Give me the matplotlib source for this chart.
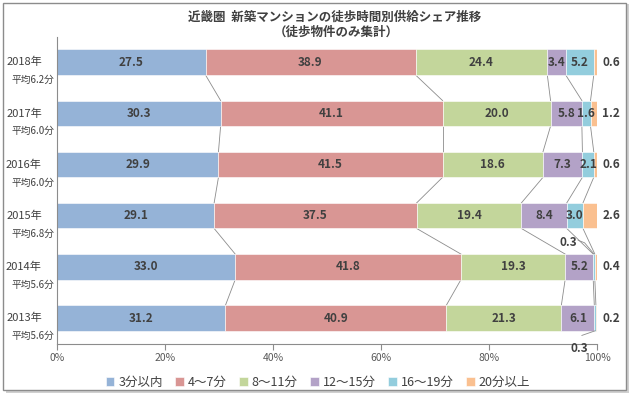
import numpy as np
import matplotlib
matplotlib.use('Agg')
import matplotlib.pyplot as plt
from matplotlib.patches import Rectangle

plt.rcParams['font.family'] = ['Noto Sans CJK JP', 'DejaVu Sans']

# データ (上から 2018 -> 2013)
years = ['2018年', '2017年', '2016年', '2015年', '2014年', '2013年']
averages = ['平均6.2分', '平均6.0分', '平均6.0分', '平均6.8分', '平均5.6分', '平均5.6分']
categories = ['3分以内', '4～7分', '8～11分', '12～15分', '16～19分', '20分以上']

walk_0_3 = [27.5, 30.3, 29.9, 29.1, 33.0, 31.2]
walk_4_7 = [38.9, 41.1, 41.5, 37.5, 41.8, 40.9]
walk_8_11 = [24.4, 20.0, 18.6, 19.4, 19.3, 21.3]
walk_12_15 = [3.4, 5.8, 7.3, 8.4, 5.2, 6.1]
walk_16_19 = [5.2, 1.6, 2.1, 3.0, 0.3, 0.3]
walk_20_up = [0.6, 1.2, 0.6, 2.6, 0.4, 0.2]

colors = ['#95B3D7', '#D99694', '#C3D69B', '#B3A2C7', '#93CDDD', '#FAC090']
txt = '#404040'

data = np.array([walk_0_3, walk_4_7, walk_8_11, walk_12_15, walk_16_19, walk_20_up])
ypos = np.arange(len(years))[::-1]
h = 0.5

fig = plt.figure(figsize=(6.33, 3.98), dpi=100)
# 外枠
fig.patches.append(Rectangle((0.009, 0.012), 0.985, 0.978, transform=fig.transFigure,
                             facecolor='#d0d0d0', edgecolor='none', zorder=-2))
fig.patches.append(Rectangle((0.004, 0.02), 0.985, 0.972, transform=fig.transFigure,
                             facecolor='white', edgecolor='#8c8c8c', lw=1.0, zorder=-1))

ax = fig.add_axes([57 / 633, 1 - 343.6 / 398, 540 / 633, 307 / 398])

left = np.zeros(len(years))
for i, cat in enumerate(categories):
    ax.barh(ypos, data[i], left=left, height=h, color=colors[i], edgecolor='white',
            linewidth=0.4, label=cat, zorder=2)
    for j in range(len(years)):
        v = data[i][j]
        if i == 5:
            ax.text(102.6, ypos[j], f'{v:.1f}', ha='center', va='center', fontsize=8.5,
                    fontweight='bold', color=txt, clip_on=False)
        elif v >= 1.0:
            ax.text(left[j] + v / 2, ypos[j], f'{v:.1f}', ha='center', va='center',
                    fontsize=8.5, fontweight='bold', color=txt, zorder=3)
    left = left + data[i]

# 0.3 のラベル (2014, 2013)
cum = np.cumsum(data, axis=0)
j14, j13 = 4, 5
ax.text(94.6, ypos[j14] + 0.48, f'{walk_16_19[j14]:.1f}', ha='center', va='center',
        fontsize=8.5, fontweight='bold', color=txt)
ax.plot([96.5, 97.7, (cum[3][j14] + cum[4][j14]) / 2],
        [ypos[j14] + 0.52, ypos[j14] + 0.47, ypos[j14] + h / 2], color='#8c8c8c', lw=0.6)
ax.text(96.7, ypos[j13] - 0.6, f'{walk_16_19[j13]:.1f}', ha='center', va='center',
        fontsize=8.5, fontweight='bold', color=txt, clip_on=False)
ax.plot([97.2, (cum[3][j13] + cum[4][j13]) / 2], [ypos[j13] - 0.34, ypos[j13] - h / 2],
        color='#8c8c8c', lw=0.6, clip_on=False)

# 区分線
for j in range(len(years) - 1):
    for i in range(len(categories)):
        ax.plot([cum[i][j], cum[i][j + 1]], [ypos[j] - h / 2, ypos[j + 1] + h / 2],
                color='#8c8c8c', lw=0.6, zorder=1)

# 年ラベル
for j in range(len(years)):
    ax.text(-2.8, ypos[j], years[j], ha='right', va='center', fontsize=8,
            color=txt, clip_on=False)
    ax.text(-0.5, ypos[j] - 0.35, averages[j], ha='right', va='center', fontsize=7,
            color=txt, clip_on=False)

ax.set_xlim(0, 100)
ax.set_ylim(-0.5, len(years) - 0.5)
ax.set_xticks(np.arange(0, 101, 20))
ax.set_xticklabels([f'{t}%' for t in range(0, 101, 20)], fontsize=7.5, color='#595959')
ax.set_yticks([])
ax.tick_params(axis='x', length=4, color='#8c8c8c', direction='out', pad=3)
for s in ['top', 'right']:
    ax.spines[s].set_visible(False)
for s in ['left', 'bottom']:
    ax.spines[s].set_color('#8c8c8c')
    ax.spines[s].set_linewidth(0.8)

fig.text(0.529, 0.957, '近畿圏  新築マンションの徒歩時間別供給シェア推移', ha='center',
         va='center', fontsize=9, fontweight='bold', color=txt)
fig.text(0.531, 0.918, '（徒歩物件のみ集計）', ha='center', va='center', fontsize=9,
         fontweight='bold', color=txt)

fig.legend(loc='center', bbox_to_anchor=(0.502, 0.04), ncol=6, frameon=False,
           fontsize=9, handlelength=0.7, handleheight=0.7, handletextpad=0.3,
           columnspacing=1.0, labelcolor='#404040')

fig.savefig('out.png', dpi=100)
